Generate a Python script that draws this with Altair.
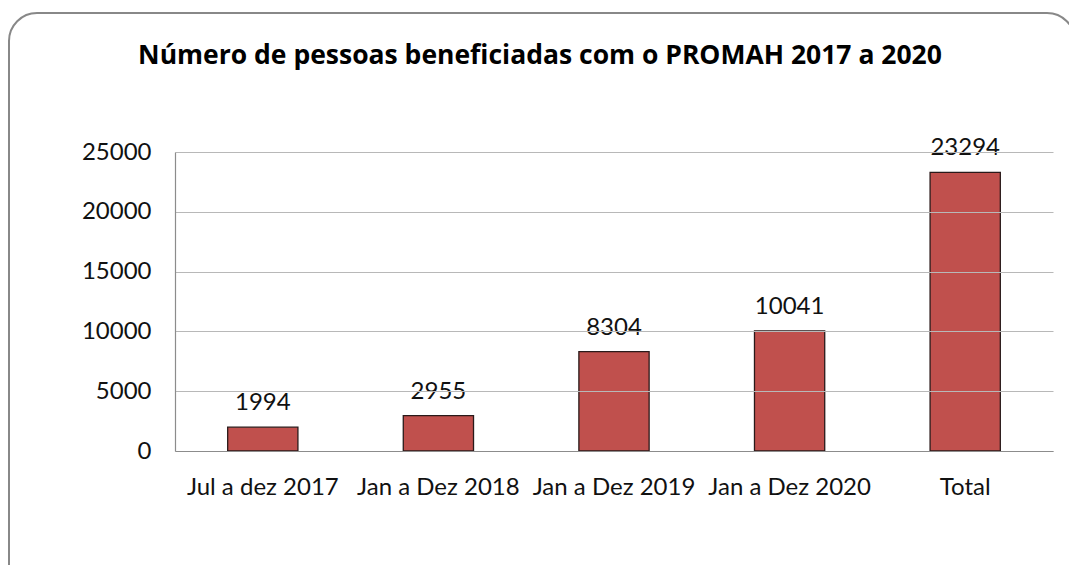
import altair as alt
import pandas as pd

categories = ["Jul a dez 2017", "Jan a Dez 2018", "Jan a Dez 2019", "Jan a Dez 2020", "Total"]
values = [1994, 2955, 8304, 10041, 23294]
y_ticks = [0, 5000, 10000, 15000, 20000, 25000]
title_text = ["Número de pessoas beneficiadas com o PROMAH 2017 a 2020"]

df = pd.DataFrame({"cat": categories, "val": values})
tdf = pd.DataFrame({"t": title_text})

FONT = "Lato"

x_enc = alt.X("cat:N", sort=categories, title=None,
              scale=alt.Scale(paddingInner=0.6, paddingOuter=0.3),
              axis=alt.Axis(labelAngle=0, labelFont=FONT, labelFontSize=24, labelColor="#111",
                            labelPadding=24, ticks=False, domainColor="#8c8c8c", domainWidth=1.2,
                            zindex=1))
y_enc = alt.Y("val:Q", title=None,
              scale=alt.Scale(domain=[0, 25000], nice=False),
              axis=alt.Axis(values=y_ticks, format="d", labelFont=FONT, labelFontSize=24,
                            labelColor="#111", labelPadding=24, ticks=False,
                            domainColor="#8c8c8c", domainWidth=1.2,
                            gridColor="#b8b8b8", gridWidth=1, zindex=1))

frame = alt.Chart(tdf).mark_rect(
    fill="white", stroke="#888888", strokeWidth=2, cornerRadius=28, clip=False
).encode(x=alt.value(-166), x2=alt.value(900), y=alt.value(-139), y2=alt.value(480))

title = alt.Chart(tdf).mark_text(
    font="Open Sans", fontSize=26.5, fontWeight="bold", color="#000", align="center",
    baseline="alphabetic"
).encode(x=alt.value(365), y=alt.value(-88), text="t:N")

bars = alt.Chart(df).mark_bar(
    color="#C0504D", stroke="#2a1a1a", strokeWidth=1.3
).encode(x=x_enc, y=y_enc)

labels = alt.Chart(df).mark_text(
    font=FONT, fontSize=24, color="#111", baseline="bottom", dy=-12
).encode(x=alt.X("cat:N", sort=categories), y="val:Q", text="val:Q")

chart = alt.layer(frame, title, bars, labels).properties(
    width=878, height=299,
    padding={"left": 175, "top": 152, "right": 16, "bottom": 114},
    autosize=alt.AutoSizeParams(type="none"),
).configure_view(stroke=None).configure(background="white")

chart.save("out.html", embed_options={"renderer": "svg", "actions": False})
